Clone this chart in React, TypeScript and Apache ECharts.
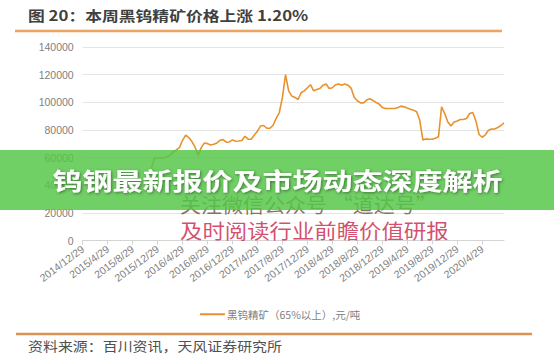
import React, { useEffect, useRef } from "react";
import * as echarts from "echarts";

const titleText = "图 20：本周黑钨精矿价格上涨 1.20%";
const sourceText = "资料来源：百川资讯，天风证券研究所";
const bannerText = "钨钢最新报价及市场动态深度解析";
const watermark1 = "关注微信公众号 “道达号”";
const watermark2 = "及时阅读行业前瞻价值研报";
const seriesName = "黑钨精矿（65%以上）,元/吨";

// semi-monthly dates from 2014/12/29 to 2020/8/14
function buildCategories(): string[] {
  const out: string[] = [];
  for (let k = 0; k < 136; k++) {
    const off = k % 2 === 0 ? k / 2 : (k + 1) / 2;
    const year = 2014 + Math.floor((11 + off) / 12);
    const month = ((11 + off) % 12) + 1;
    let day = k % 2 === 0 ? 29 : 14;
    if (month === 2 && day === 29 && year % 4 !== 0) day = 28;
    out.push(`${year}/${month}/${day}`);
  }
  return out;
}
const categories = buildCategories();

const priceValues: (number | null)[] = [
  null, null, null, null, null, null, null, null, null, null, null,
  null, null, null, null, null, null, null, null, null, null, null,
  52000, 59500, 59700, 59700, 59700, 60400, 61700, 64100, 65500, 67200,
  72500, 76200, 74500, 71600, 67500, 61700, 67200, 70600, 70100, 69100,
  69600, 70600, 72500, 73000, 71100, 71300, 72800, 71800, 72000, 72300,
  75400, 73300, 73300, 76400, 79100, 82900, 83200, 81200, 81200, 83400,
  88300, 92600, 103500, 120000, 108300, 104500, 103500, 102000, 106900, 108300,
  110500, 112700, 108300, 109300, 110000, 112400, 113200, 110000, 110500, 112700,
  113200, 112400, 113200, 112400, 110300, 103700, 101100, 99600, 99600, 101600,
  102500, 101300, 99900, 98700, 96300, 95500, 95500, 95500, 95500, 96300,
  97200, 96700, 95800, 95000, 94300, 93100, 87000, 72800, 73500, 73300,
  73300, 74000, 75000, 96700, 91900, 85800, 82900, 85800, 86500, 87500,
  87500, 88300, 91900, 92600, 86500, 76700, 74700, 76400, 79800, 80700,
  80700, 81700, 83200, 85100,
];

const yMin = 0;
const yMax = 140000;
const yInterval = 20000;

export default function App() {
  const ref = useRef<HTMLDivElement>(null);
  useEffect(() => {
    if (!ref.current) return;
    const chart = echarts.init(ref.current, undefined, { renderer: "svg" });
    const cjk = "'Noto Sans CJK SC', sans-serif";
    chart.setOption({
      animation: false,
      backgroundColor: "#ffffff",
      grid: { left: 82.7, right: 50, top: 47, bottom: 121.5, containLabel: false },
      legend: {
        data: [seriesName],
        left: 195,
        top: 304,
        icon: "rect",
        itemWidth: 25,
        itemHeight: 2,
        itemGap: 10,
        textStyle: { fontSize: 10.5, color: "#808080", fontFamily: cjk, padding: [0, 0, 0, -3] },
      },
      xAxis: {
        type: "category",
        data: categories,
        boundaryGap: false,
        axisLine: { lineStyle: { color: "#d4d4d4" } },
        axisTick: { show: true, interval: 7, length: 4, lineStyle: { color: "#d4d4d4" } },
        axisLabel: {
          interval: 7,
          rotate: 37,
          fontSize: 10.5,
          color: "#808080",
          margin: 7,
          fontFamily: "'Liberation Sans', Arial, sans-serif",
        },
      },
      yAxis: {
        type: "value",
        min: yMin,
        max: yMax,
        interval: yInterval,
        axisLine: { show: false },
        axisTick: { show: false },
        axisLabel: {
          fontSize: 10.5,
          color: "#808080",
          margin: 9,
          fontFamily: "'Liberation Sans', Arial, sans-serif",
          formatter: (v: number) => String(v),
        },
        splitLine: { lineStyle: { color: "#e4e4e4" } },
      },
      series: [
        {
          name: seriesName,
          type: "line",
          data: priceValues,
          showSymbol: false,
          symbol: "none",
          connectNulls: false,
          lineStyle: { color: "#e8922e", width: 1.6 },
          itemStyle: { color: "#e8922e" },
        },
      ],
      graphic: [
        {
          type: "text",
          x: 28,
          y: 15,
          scaleX: 1.2,
          z: 50,
          style: {
            text: titleText,
            fontSize: 14,
            fontWeight: "bold",
            fontFamily: cjk,
            fill: "#404040",
            align: "left",
            verticalAlign: "middle",
          },
        },
        {
          type: "line",
          z: 50,
          shape: { x1: 15, y1: 31, x2: 502, y2: 31 },
          style: { stroke: "#eca462", lineWidth: 2.5 },
        },
        {
          type: "line",
          z: 50,
          shape: { x1: 16, y1: 334, x2: 532, y2: 334 },
          style: { stroke: "#dc9252", lineWidth: 2.5 },
        },
        {
          type: "text",
          x: 28,
          y: 345,
          scaleX: 1.15,
          z: 50,
          style: {
            text: sourceText,
            fontSize: 13,
            fontFamily: cjk,
            fill: "#505050",
            align: "left",
            verticalAlign: "middle",
          },
        },
        {
          type: "text",
          x: 180,
          y: 204,
          scaleX: 1.05,
          z: 100,
          style: {
            text: watermark1,
            fontSize: 20,
            fontFamily: cjk,
            fill: "rgba(110,95,70,0.85)",
            align: "left",
            verticalAlign: "middle",
          },
        },
        {
          type: "text",
          x: 180,
          y: 230,
          scaleX: 1.12,
          z: 100,
          style: {
            text: watermark2,
            fontSize: 20,
            fontFamily: cjk,
            fill: "rgba(205,55,90,0.88)",
            align: "left",
            verticalAlign: "middle",
          },
        },
        {
          type: "rect",
          z: 110,
          shape: { x: 0, y: 150, width: 554, height: 60 },
          style: { fill: "rgba(85,198,72,0.84)" },
        },
        {
          type: "text",
          x: 277.5,
          y: 179,
          scaleX: 1.25,
          z: 120,
          style: {
            text: bannerText,
            fontSize: 24,
            fontWeight: "bold",
            fontFamily: cjk,
            fill: "#ffffff",
            align: "center",
            verticalAlign: "middle",
            textShadowColor: "rgba(0,0,0,0.45)",
            textShadowBlur: 3,
            textShadowOffsetX: 1,
            textShadowOffsetY: 1,
          },
        },
      ],
    });
    return () => chart.dispose();
  }, []);
  return <div ref={ref} style={{ width: 554, height: 362, position: "absolute", left: 0, top: 0 }} />;
}
